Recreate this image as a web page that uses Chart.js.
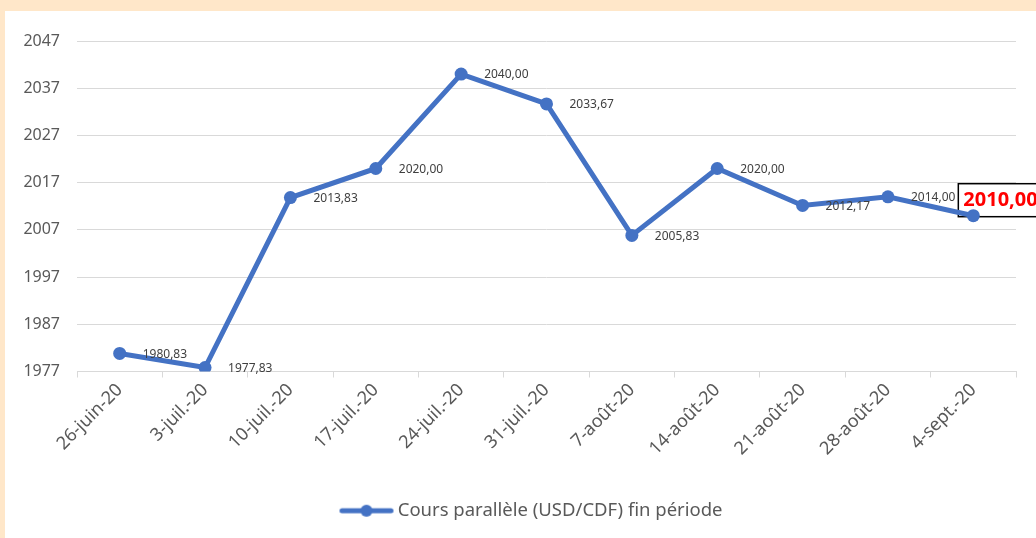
<!DOCTYPE html>
<html lang="fr">
<head>
    <meta charset="UTF-8">
    <title>Cours parallèle (USD/CDF) fin période</title>
    <style>
        html, body { margin: 0; padding: 0; }
        body { width: 1036px; height: 538px; background: #ffe7c9; position: relative; overflow: hidden; }
        .chart { position: absolute; left: 5px; top: 11px; width: 1031px; height: 527px; background: #ffffff; }
    </style>
</head>
<body>
    <div class="chart">
        <canvas id="coursChart" width="1031" height="527"></canvas>
    </div>

    <script src="https://cdn.jsdelivr.net/npm/chart.js"></script>
    <script>
        const dates = ['26-juin-20', '3-juil.-20', '10-juil.-20', '17-juil.-20', '24-juil.-20', '31-juil.-20',
                       '7-août-20', '14-août-20', '21-août-20', '28-août-20', '4-sept.-20'];
        const cours = [1980.83, 1977.83, 2013.83, 2020.00, 2040.00, 2033.67, 2005.83, 2020.00, 2012.17, 2014.00, 2010.00];
        const yTicks = [1977, 1987, 1997, 2007, 2017, 2027, 2037, 2047];

        const blue = '#4472c4';
        const fontFamily = '"Noto Sans", "Liberation Sans", sans-serif';

        function frNumber(v) {
            return v.toFixed(2).replace('.', ',');
        }

        // legend icon: line with a dot, drawn in the right part so it sits next to the text
        const legendIcon = document.createElement('canvas');
        legendIcon.width = 104;
        legendIcon.height = 14;
        (function () {
            const c = legendIcon.getContext('2d');
            c.strokeStyle = blue;
            c.fillStyle = blue;
            c.lineWidth = 5;
            c.lineCap = 'round';
            c.beginPath();
            c.moveTo(50.5, 7);
            c.lineTo(99.5, 7);
            c.stroke();
            c.beginPath();
            c.arc(75, 7, 6, 0, Math.PI * 2);
            c.fill();
        })();

        const valueLabels = {
            id: 'valueLabels',
            beforeDatasetsDraw(chart) {
                // boxed red label for the last point
                const ctx = chart.ctx;
                const pts = chart.getDatasetMeta(0).data;
                const last = pts[pts.length - 1];
                const text = frNumber(cours[cours.length - 1]);
                ctx.save();
                ctx.font = 'bold 20px ' + fontFamily;
                const w = ctx.measureText(text).width + 10;
                const bx = last.x - 15, by = last.y - 32;
                ctx.fillStyle = '#ffffff';
                ctx.fillRect(bx, by, w, 33);
                ctx.lineWidth = 1.5;
                ctx.strokeStyle = '#000000';
                ctx.strokeRect(bx, by, w, 33);
                ctx.fillStyle = '#ff0000';
                ctx.textAlign = 'left';
                ctx.textBaseline = 'middle';
                ctx.fillText(text, bx + 5, by + 17);
                ctx.restore();
            },
            afterDatasetsDraw(chart) {
                const ctx = chart.ctx;
                const pts = chart.getDatasetMeta(0).data;
                ctx.save();
                ctx.font = '12px ' + fontFamily;
                ctx.fillStyle = '#404040';
                ctx.textAlign = 'left';
                ctx.textBaseline = 'middle';
                for (let i = 0; i < pts.length - 1; i++) {
                    ctx.fillText(frNumber(cours[i]), pts[i].x + 23, pts[i].y + 1);
                }
                ctx.restore();
            }
        };

        new Chart(document.getElementById('coursChart'), {
            type: 'line',
            data: {
                labels: dates,
                datasets: [{
                    label: 'Cours parallèle (USD/CDF) fin période',
                    data: cours,
                    borderColor: blue,
                    backgroundColor: blue,
                    borderWidth: 5,
                    pointRadius: 6.5,
                    pointHoverRadius: 6.5,
                    pointBackgroundColor: blue,
                    pointBorderWidth: 0,
                    tension: 0
                }]
            },
            options: {
                responsive: false,
                animation: false,
                layout: { padding: { left: 0, right: 20, top: 30, bottom: 8 } },
                scales: {
                    x: {
                        offset: true,
                        grid: {
                            offset: true,
                            drawOnChartArea: false,
                            color: '#d9d9d9',
                            tickLength: 6
                        },
                        border: { color: '#d9d9d9', width: 1 },
                        ticks: {
                            color: '#595959',
                            font: { family: fontFamily, size: 18 },
                            minRotation: 45,
                            maxRotation: 45,
                            autoSkip: false,
                            padding: 2
                        },
                        afterFit(scale) { scale.height = 120; }
                    },
                    y: {
                        min: 1977,
                        max: 2047,
                        afterBuildTicks(scale) {
                            scale.ticks = yTicks.map(v => ({ value: v }));
                        },
                        grid: { color: '#d9d9d9', drawTicks: false },
                        border: { display: false },
                        ticks: {
                            color: '#595959',
                            font: { family: fontFamily, size: 16 },
                            padding: 17,
                            callback: v => String(v)
                        },
                        afterFit(scale) { scale.width = 72; }
                    }
                },
                plugins: {
                    legend: {
                        position: 'bottom',
                        labels: {
                            color: '#595959',
                            font: { family: fontFamily, size: 18.5 },
                            usePointStyle: true,
                            pointStyleWidth: 90,
                            padding: 10,
                            generateLabels(chart) {
                                return Chart.defaults.plugins.legend.labels.generateLabels(chart).map(item => {
                                    item.pointStyle = legendIcon;
                                    return item;
                                });
                            }
                        }
                    },
                    tooltip: { enabled: false }
                }
            },
            plugins: [valueLabels]
        });
    </script>
</body>
</html>
